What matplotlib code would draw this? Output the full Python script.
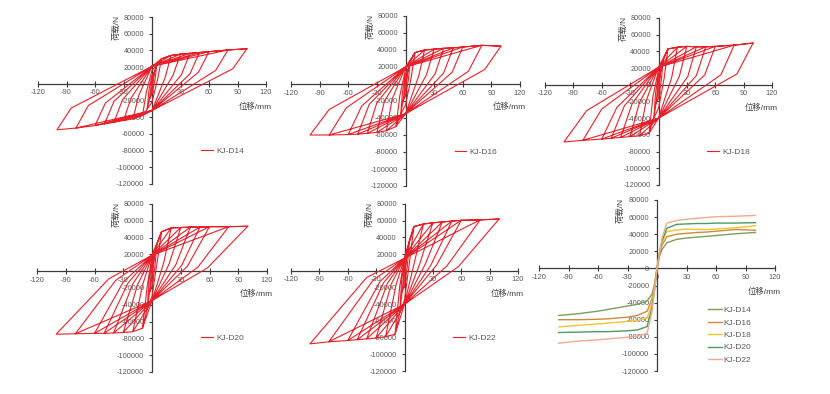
import matplotlib
matplotlib.use('Agg')
import matplotlib.pyplot as plt

plt.rcParams['font.family'] = ['Liberation Sans', 'Noto Sans CJK SC']
plt.rcParams['axes.unicode_minus'] = False

# амплитуды циклов, мм (одинаковые для всех образцов, в обе стороны)
amp = [2.5, 5, 10, 20, 30, 40, 50, 60, 80, 100]

# KJ-D14
d14_pos = [14000, 22000, 30000, 34000, 35500, 36500, 37500, 38500, 40500, 42000]
d14_neg = [-18000, -30000, -38000, -42000, -44000, -46000, -48000, -50000, -53000, -55000]
d14_uxp = [1, 3, 6, 14, 22, 31, 40, 49, 67, 85]
d14_uyp = [2000, 4000, 6000, 8000, 10000, 11000, 12000, 14000, 16000, 18000]
d14_uxn = [-1, -3, -6, -14, -22, -31, -40, -49, -67, -85]
d14_uyn = [-3000, -6000, -10000, -14000, -17000, -19000, -21000, -23000, -26000, -29000]
d14_cp = [5000, 10000, 16000, 21000, 21000, 21000, 21000, 21000, 21000, 21000]
d14_cn = [-5000, -12000, -22000, -32000, -32000, -32000, -32000, -32000, -32000, -32000]

# KJ-D16
d16_pos = [16000, 27000, 37000, 40000, 41000, 42000, 42500, 43500, 45500, 44500]
d16_neg = [-20000, -35000, -50000, -55000, -57000, -58000, -59000, -59500, -60000, -60000]
d16_uxp = [1, 3, 6, 14, 22, 31, 40, 49, 66, 83]
d16_uyp = [2000, 5000, 8000, 10000, 11000, 12000, 13000, 14000, 15000, 17000]
d16_uxn = [-1, -3, -6, -14, -22, -30, -38, -46, -62, -80]
d16_uyn = [-4000, -8000, -14000, -18000, -20000, -22000, -24000, -26000, -28000, -30000]
d16_cp = [6000, 12000, 17000, 20000, 20000, 20000, 20000, 20000, 20000, 20000]
d16_cn = [-6000, -14000, -25000, -35000, -35000, -35000, -35000, -35000, -35000, -35000]

# KJ-D18
d18_pos = [18000, 30000, 43000, 45000, 46000, 45500, 45500, 46000, 47500, 50000]
d18_neg = [-22000, -40000, -58000, -61000, -62000, -63000, -64000, -65000, -66500, -68500]
d18_uxp = [1, 3, 6, 14, 22, 31, 40, 49, 66, 83]
d18_uyp = [2000, 5000, 8000, 9000, 10000, 10000, 11000, 12000, 12000, 13000]
d18_uxn = [-1, -3, -6, -13, -20, -28, -36, -44, -60, -76]
d18_uyn = [-4000, -9000, -15000, -19000, -21000, -23000, -25000, -27000, -29000, -31000]
d18_cp = [6000, 13000, 18000, 21000, 21000, 21000, 21000, 21000, 21000, 21000]
d18_cn = [-7000, -16000, -28000, -40000, -40000, -40000, -40000, -40000, -40000, -40000]

# KJ-D20
d20_pos = [18000, 32000, 47000, 51500, 52000, 52500, 52500, 53000, 53000, 53500]
d20_neg = [-25000, -45000, -68000, -72000, -73000, -73500, -74000, -74000, -74500, -75000]
d20_uxp = [1, 3, 5, 12, 18, 25, 31, 37, 48, 58]
d20_uyp = [2000, 5000, 8000, 9000, 9000, 8000, 7000, 6000, 5000, 4000]
d20_uxn = [-1, -3, -5, -10, -15, -20, -25, -30, -38, -45]
d20_uyn = [-5000, -10000, -18000, -17000, -16000, -15000, -14000, -13000, -11000, -9000]
d20_cp = [6000, 13000, 17000, 19000, 19000, 19000, 19000, 19000, 19000, 19000]
d20_cn = [-8000, -18000, -30000, -35000, -35000, -35000, -35000, -35000, -35000, -35000]

# KJ-D22
d22_pos = [18000, 35000, 53000, 56000, 57500, 58500, 59500, 60500, 61000, 62000]
d22_neg = [-25000, -50000, -76000, -79000, -80500, -81500, -82500, -83500, -85000, -87500]
d22_uxp = [1, 3, 5, 10, 16, 22, 28, 34, 45, 57]
d22_uyp = [2000, 5000, 8000, 8000, 8000, 8000, 7000, 7000, 6000, 5000]
d22_uxn = [-1, -3, -5, -9, -14, -18, -22, -26, -33, -40]
d22_uyn = [-5000, -10000, -18000, -17000, -16000, -15000, -14000, -13000, -11000, -8000]
d22_cp = [6000, 12000, 15000, 15000, 15000, 15000, 15000, 15000, 15000, 15000]
d22_cn = [-8000, -18000, -35000, -40000, -40000, -40000, -40000, -40000, -40000, -40000]

names = ['KJ-D14', 'KJ-D16', 'KJ-D18', 'KJ-D20', 'KJ-D22']
skeleton_colors = ['#7f9d5c', '#d4883c', '#f2c52e', '#4f9a62', '#f2a98e']

specimens = [
    (d14_pos, d14_neg, d14_uxp, d14_uyp, d14_uxn, d14_uyn, d14_cp, d14_cn),
    (d16_pos, d16_neg, d16_uxp, d16_uyp, d16_uxn, d16_uyn, d16_cp, d16_cn),
    (d18_pos, d18_neg, d18_uxp, d18_uyp, d18_uxn, d18_uyn, d18_cp, d18_cn),
    (d20_pos, d20_neg, d20_uxp, d20_uyp, d20_uxn, d20_uyn, d20_cp, d20_cn),
    (d22_pos, d22_neg, d22_uxp, d22_uyp, d22_uxn, d22_uyn, d22_cp, d22_cn),
]


def loops(spec):
    """Собирает петли гистерезиса из опорных точек каждого цикла."""
    pos, neg, uxp, uyp, uxn, uyn, cp, cn = spec
    xs, ys = [0], [0]
    for i in range(len(amp)):
        j = max(i - 1, 0)
        xs += [amp[i], uxp[i], 0, -amp[j], -amp[i], uxn[i], 0, amp[j], amp[i]]
        ys += [pos[i], uyp[i], cn[i], neg[j], neg[i], uyn[i], cp[i], pos[j], pos[i]]
    return xs, ys


def skeleton(spec):
    pos, neg = spec[0], spec[1]
    xs = [-a for a in amp[::-1]] + [0] + amp
    ys = neg[::-1] + [0] + pos
    return xs, ys


def style(ax):
    ax.set_xlim(-120, 120)
    ax.set_ylim(-120000, 80000)
    ax.patch.set_alpha(0)
    ax.spines['left'].set_position(('data', 0))
    ax.spines['bottom'].set_position(('data', 0))
    ax.spines['top'].set_visible(False)
    ax.spines['right'].set_visible(False)
    for s in ['left', 'bottom']:
        ax.spines[s].set_color('#3c3c3c')
        ax.spines[s].set_linewidth(0.9)
    ax.set_xticks(range(-120, 121, 30))
    ax.set_yticks(range(-120000, 80001, 20000))
    ax.tick_params(axis='x', direction='inout', length=4, width=0.8, color='#3c3c3c',
                   labelcolor='#595959', labelsize=5.3, pad=2)
    ax.tick_params(axis='y', direction='out', length=2.5, width=0.8, color='#3c3c3c',
                   labelcolor='#595959', labelsize=5.3, pad=3)
    ax.text(126, -27000, '位移/mm', ha='right', va='center', fontsize=6, color='#404040')
    ax.text(-37, 68000, '荷载/N', rotation=90, ha='center', va='center', fontsize=6, color='#404040')


fig = plt.figure(figsize=(8.3, 3.94), dpi=100)

# рамки панелей в пикселях: левый, верхний, правый, нижний край оси
boxes = [(38, 17, 266, 184), (291, 16, 520, 186), (545, 18, 772, 185),
         (37, 204, 267, 372), (291, 204, 518, 371), (539, 200, 775, 371)]
axes = []
for l, t, r, b in boxes:
    axes.append(fig.add_axes([l / 830, 1 - b / 394, (r - l) / 830, (b - t) / 394]))

for k in range(5):
    ax = axes[k]
    style(ax)
    xs, ys = loops(specimens[k])
    ax.plot(xs, ys, color='#e8202a', linewidth=0.8, label=names[k], zorder=3)
    leg = ax.legend(loc='center left', bbox_to_anchor=(0.715, 0.2), frameon=False, fontsize=6,
                    handlelength=1.4, handletextpad=0.4, borderaxespad=0, borderpad=0)
    for t in leg.get_texts():
        t.set_color('#595959')

ax = axes[5]
style(ax)
for k in range(5):
    xs, ys = skeleton(specimens[k])
    ax.plot(xs, ys, color=skeleton_colors[k], linewidth=1.0, label=names[k], zorder=3)
leg = ax.legend(loc='center left', bbox_to_anchor=(0.715, 0.21), frameon=False, fontsize=6,
                handlelength=1.7, handletextpad=0.2, borderaxespad=0, borderpad=0, labelspacing=0.55)
for t in leg.get_texts():
    t.set_color('#595959')

fig.savefig('out.png', dpi=100, facecolor='white')
